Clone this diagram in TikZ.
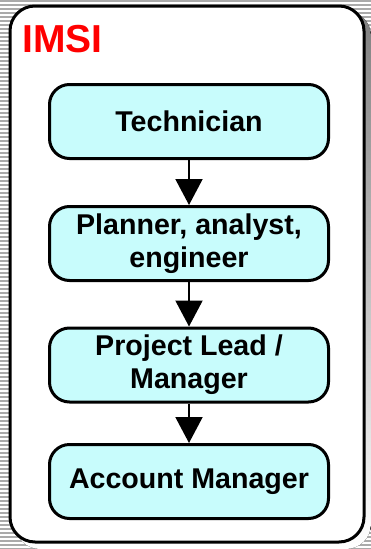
\documentclass[tikz,border=0pt]{standalone}
\usepackage{fontspec}
\setmainfont{Liberation Sans}
\usepackage{xcolor}
\usetikzlibrary{arrows.meta}
\usetikzlibrary{calc}

\definecolor{boxfill}{RGB}{200,252,252}
\definecolor{stripe}{RGB}{170,170,170}
\definecolor{shade}{RGB}{128,128,128}

\begin{document}
\begin{tikzpicture}[x=1pt,y=-1pt,>={Triangle[width=27pt,length=26pt]},
                    role node/.style={rectangle,draw,rounded corners=20pt,line width=3pt,
                      fill=boxfill,minimum width=279pt,minimum height=74pt,inner sep=0pt,
                      align=center,font=\fontsize{28.6}{33}\selectfont\bfseries},
                    link/.style={->,line width=2pt}]
\useasboundingbox (0,0) rectangle (371,549);
% striped background
\foreach \y in {1,5,...,549}
  \draw[stripe,line width=2pt] (0,\y) -- (371,\y);
% frame with shadow
\fill[shade,rounded corners=25pt] (15,11) rectangle (371,549);
\draw[fill=white,line width=3pt,rounded corners=25pt] (10,6) rectangle (364,542);
\node[anchor=base west,inner sep=0pt,text=red,font=\fontsize{39}{41}\selectfont\bfseries]
  (title) at (22,52) {IMSI};

\node[role node] (1) at (189,121.5) {Technician};
\node[role node] (2) at (189,243.5) {Planner, analyst,\\engineer};
\node[role node] (3) at (189,365) {Project Lead /\\Manager};
\node[role node] (4) at (189,481.5) {Account Manager};

\path[link]
  (1) edge (2)
  (2) edge (3)
  (3) edge (4);
\end{tikzpicture}
\end{document}
